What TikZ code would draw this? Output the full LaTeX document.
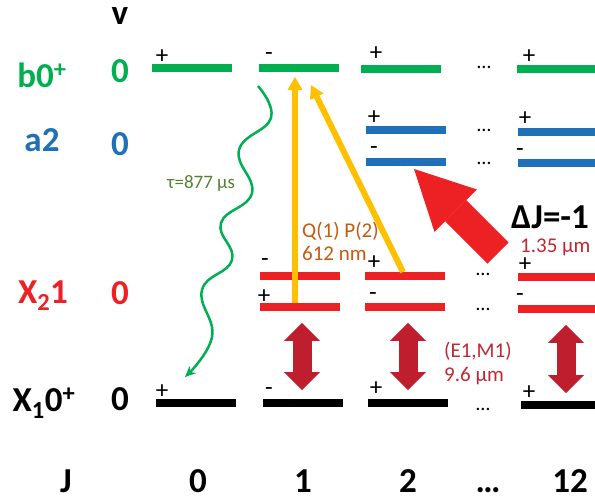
\documentclass[tikz,border=0pt]{standalone}
\usepackage{fontspec}
\setmainfont{Carlito}
\usetikzlibrary{arrows.meta}

\definecolor{bgreen}{RGB}{0,176,80}
\definecolor{ablue}{RGB}{30,112,184}
\definecolor{xred}{RGB}{237,32,36}
\definecolor{pumpyellow}{RGB}{255,192,0}
\definecolor{pumptext}{RGB}{197,90,17}
\definecolor{tautext}{RGB}{84,130,53}
\definecolor{dipred}{RGB}{190,30,45}
\definecolor{diptext}{RGB}{192,40,50}

\tikzset{
  lvl/.style      = {rectangle, inner sep=0pt, minimum width=80pt, minimum height=7.5pt},
  b0lvl/.style    = {lvl, fill=bgreen},
  a2lvl/.style    = {lvl, fill=ablue},
  x2lvl/.style    = {lvl, fill=xred},
  x1lvl/.style    = {lvl, fill=black},
  parity/.style   = {inner sep=0pt, font=\fontsize{25}{25}\selectfont},
  dots/.style     = {inner sep=0pt, font=\fontsize{20}{20}\selectfont},
  biglbl/.style   = {inner sep=0pt, anchor=base, font=\fontsize{35}{35}\selectfont\bfseries},
  note/.style     = {inner sep=0pt, anchor=base west, font=\fontsize{21}{21}\selectfont},
  pump/.style     = {draw=pumpyellow, line width=6pt,
                     -{Triangle[length=13pt,width=15pt,line width=0pt]}},
  dip/.style      = {draw=dipred, line width=19pt,
                     {Triangle[length=18pt,width=36pt,line width=0pt]}-{Triangle[length=18pt,width=36pt,line width=0pt]}},
  jump/.style     = {draw=xred, line width=30pt,
                     -{Triangle[length=59pt,width=60pt,line width=0pt]}},
  decay/.style    = {draw=bgreen, line width=2.5pt,
                     -{Stealth[length=11pt,width=10pt,line width=0pt]}}
}

\begin{document}
\begin{tikzpicture}[x=1pt, y=-1pt]
  \useasboundingbox (0,0) rectangle (595,501);

  % state and v labels
  \node[biglbl] (vhead) at (120,24) {v};
  \node[biglbl, text=bgreen] (b0name) at (42,87) {b0\textsuperscript{+}};
  \node[biglbl, text=bgreen] (b0v) at (120,82) {0};
  \node[biglbl, text=ablue] (a2name) at (42,151) {a2};
  \node[biglbl, text=ablue] (a2v) at (120,155) {0};
  \node[biglbl, text=xred] (x2name) at (43,303) {X\textsubscript{2}1};
  \node[biglbl, text=xred] (x2v) at (120,304) {0};
  \node[biglbl] (x1name) at (44,411) {X\textsubscript{1}0\textsuperscript{+}};
  \node[biglbl] (x1v) at (120,410) {0};

  % J labels
  \node[biglbl] (jhead) at (66,492) {J};
  \node[biglbl] (j0) at (198,492) {0};
  \node[biglbl] (j1) at (303,492) {1};
  \node[biglbl] (j2) at (408,492) {2};
  \node[biglbl] (jdots) at (488,492) {…};
  \node[biglbl] (j12) at (570,492) {12};

  % levels
  \node[b0lvl] (b0) at (192,68) {};
  \node[b0lvl] (b1) at (299,68) {};
  \node[b0lvl] (b2) at (401,69) {};
  \node[b0lvl, minimum width=78pt] (b12) at (556,69) {};

  \node[a2lvl] (a2p) at (406,130) {};
  \node[a2lvl] (a2m) at (406,162) {};
  \node[a2lvl, minimum width=77pt] (a12p) at (556.5,132) {};
  \node[a2lvl, minimum width=77pt] (a12m) at (556.5,163) {};

  \node[x2lvl] (r1m) at (300,276) {};
  \node[x2lvl] (r1p) at (300,307) {};
  \node[x2lvl] (r2p) at (405,276) {};
  \node[x2lvl] (r2m) at (405,307) {};
  \node[x2lvl, minimum width=77pt] (r12p) at (556.5,277) {};
  \node[x2lvl, minimum width=77pt] (r12m) at (556.5,309) {};

  \node[x1lvl] (x0) at (195.5,403) {};
  \node[x1lvl] (x1) at (303,403) {};
  \node[x1lvl] (x2) at (408,403) {};
  \node[x1lvl, minimum width=74pt] (x12) at (558,405) {};

  % parities
  \node[parity] (pb0) at (162,57) {+};
  \node[parity] (pb1) at (269,57) {-};
  \node[parity] (pb2) at (376,54) {+};
  \node[parity] (pb12) at (529,57) {+};
  \node[parity] (pa2p) at (374,118) {+};
  \node[parity] (pa2m) at (374,151) {-};
  \node[parity] (pa12p) at (525,119) {+};
  \node[parity] (pa12m) at (520,153) {-};
  \node[parity] (pr1m) at (265,263) {-};
  \node[parity] (pr1p) at (264,297) {+};
  \node[parity] (pr2p) at (374,263) {+};
  \node[parity] (pr2m) at (373,297) {-};
  \node[parity] (pr12p) at (525,265) {+};
  \node[parity] (pr12m) at (520,298) {-};
  \node[parity] (px0) at (162,392) {+};
  \node[parity] (px1) at (269,392) {-};
  \node[parity] (px2) at (376,389) {+};
  \node[parity] (px12) at (529,393) {+};

  % dots between J=2 and J=12
  \node[dots] (db) at (484,67) {…};
  \node[dots] (dap) at (484,130) {…};
  \node[dots] (dam) at (484,163) {…};
  \node[dots] (drp) at (483,274) {…};
  \node[dots] (drm) at (483,309) {…};
  \node[dots] (dx) at (483,409) {…};

  % pump transitions
  \coordinate (qtip) at (295,77);
  \coordinate (ptip) at (311,85);
  \draw[pump] ([xshift=-5pt]r1p.north) -- (qtip);
  \draw[pump] ([xshift=-2pt]r2p.north) -- (ptip);
  \node[note, text=pumptext] (pumplbl) at (302,237) {Q(1) P(2)};
  \node[note, text=pumptext] (pumpnm) at (302,260) {612 nm};

  % decay
  \coordinate (wtop) at (258,86);
  \coordinate (wend) at (185,377);
  \draw[decay] plot[smooth, tension=0.75] coordinates
    {(wtop) (271,118) (239,150) (252,193) (221,223) (232,260) (202,290) (212,337) (wend)};
  \node[note, text=tautext, font=\fontsize{19}{19}\selectfont] (taulbl) at (167,188) {τ=877 µs};

  % X2 -> a2
  \coordinate (jtail) at (498,253);
  \draw[jump] (jtail) -- ([xshift=8pt,yshift=-3pt]a2m.south);
  \node[note, font=\fontsize{35}{35}\selectfont\bfseries] (djlbl) at (511,228) {ΔJ=-1};
  \node[note, text=diptext] (djnm) at (520,252) {1.35 µm};

  % X2 <-> X1
  \draw[dip, shorten <=12pt, shorten >=9pt] ([xshift=2pt]r1p.south) -- ([xshift=-1pt]x1.north);
  \draw[dip, shorten <=12pt, shorten >=9pt] ([xshift=3pt]r2m.south) -- (x2.north);
  \draw[dip, shorten <=12pt, shorten >=8pt] ([xshift=9.5pt]r12m.south) -- ([xshift=8pt]x12.north);
  \node[note, text=diptext] (diplbl) at (444,357) {(E1,M1)};
  \node[note, text=diptext] (dipnm) at (444,381) {9.6 µm};
\end{tikzpicture}
\end{document}
